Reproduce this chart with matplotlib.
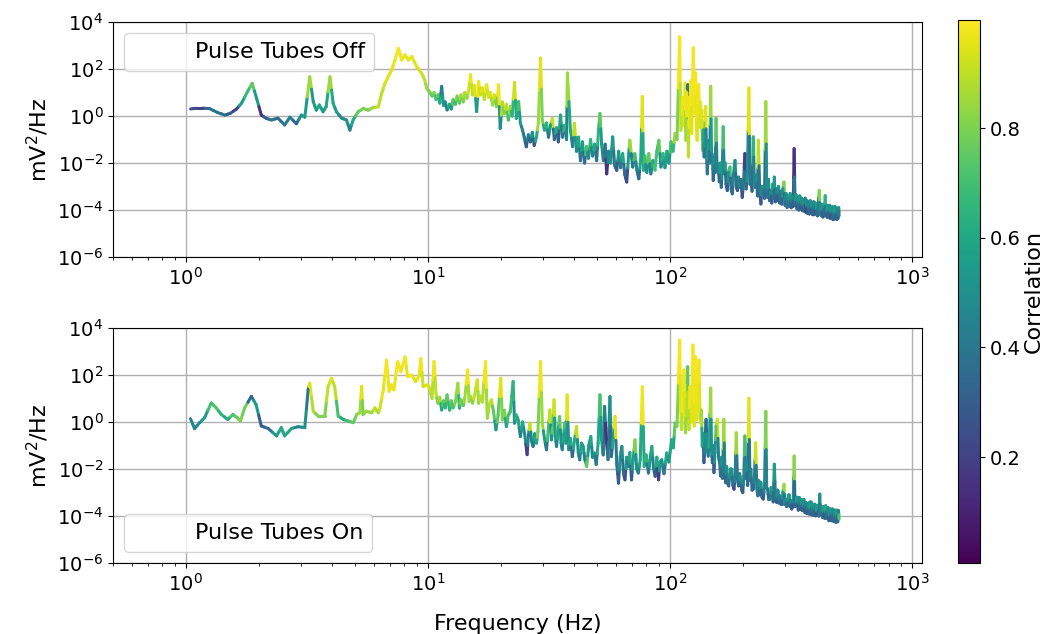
import numpy as np
import matplotlib
matplotlib.use("Agg")
import matplotlib.pyplot as plt
from matplotlib.collections import LineCollection
from matplotlib.colors import Normalize
from matplotlib.lines import Line2D
from matplotlib.ticker import NullLocator


#
# Cross-spectra with the pulse tubes off / on, coloured by correlation
#

# Pulse tubes off: frequency (Hz), log10 PSD (mV^2/Hz), correlation
freq_off = [1.046, 1.10, 1.17, 1.25, 1.35, 1.45, 1.53, 1.62, 1.70, 1.80,
            1.88, 1.96, 2.05, 2.15, 2.26, 2.40, 2.56, 2.69, 2.86, 3.00,
            3.10, 3.25, 3.36, 3.46, 3.56, 3.69, 3.80, 3.94, 4.06, 4.19,
            4.40, 4.61, 4.76, 4.91, 5.15, 5.41, 5.67, 5.95, 6.24, 6.44,
            6.65, 6.86, 7.09, 7.31, 7.55, 7.80, 8.05, 8.30, 8.57, 8.99,
            9.42, 9.70, 9.89,
            10.2, 10.4, 10.6, 10.8, 11.0, 11.2, 11.4, 11.6, 11.8, 12.0,
            12.3, 12.5, 12.7, 13.0, 13.2, 13.5, 13.7, 14.0, 14.2, 14.5,
            14.8, 15.0, 15.3, 15.6, 15.9, 16.2, 16.5, 16.8, 17.1, 17.5,
            17.8, 18.1, 18.5, 18.8, 19.2, 19.6, 19.9, 20.3, 20.7, 21.1,
            21.5, 21.9, 22.3, 22.8, 23.2, 23.7, 24.1, 24.6, 25.0, 25.5,
            26.0, 26.5, 27.0, 27.5, 28.1, 28.6, 29.2, 29.7, 30.3, 30.9,
            31.5, 32.1, 32.7, 33.3, 34.0, 34.6, 35.3, 36.0, 36.7, 37.4,
            37.7, 38.8, 39.6, 40.3, 41.1, 41.9, 42.7, 43.5, 44.4, 45.2,
            46.1, 47.0, 47.9, 48.8, 49.8, 50.7, 51.4, 52.2, 53.1, 54.0,
            54.8, 55.8, 56.9, 58.0, 59.1, 60.3, 61.4, 62.6, 63.8, 65.1,
            66.3, 67.6, 68.3, 70.2, 71.6, 73.0, 74.4, 75.8, 76.9, 77.8,
            78.8, 80.3, 81.8, 83.4, 85.0, 86.7, 88.3, 90.0, 91.8, 93.6,
            95.4, 97.2, 99.1, 101.0, 103.0, 105.0, 107.0, 109.7, 111.0, 113.0,
            114.3, 115.5, 116.5, 117.5, 118.4, 119.3, 120.3, 121.2, 122.0, 123.0,
            124.9, 126.0, 127.0, 127.7, 128.5, 129.5, 130.5, 131.5, 132.5, 133.5,
            134.5, 135.5, 136.5, 137.5, 138.5, 139.5, 140.5, 141.5, 142.7, 144.0,
            145.0, 146.0, 147.4, 148.5, 149.8, 151.0, 152.5, 154.0, 155.0, 156.5,
            158.0, 160.0, 161.5, 163.0, 164.5, 166.0, 167.5, 169.0, 170.5, 172.6,
            174.5, 177.0, 179.0, 181.0, 183.0, 185.7, 188.0, 190.0, 192.0, 194.0,
            196.5, 199.0, 201.5, 204.0, 206.5, 209.0, 212.0, 214.0, 216.0, 218.5,
            221.0, 223.0, 225.0, 228.0, 230.0, 232.0, 235.0, 237.6, 240.0, 243.0,
            246.0, 249.0, 251.0, 253.0, 255.5, 258.0, 261.0, 263.5, 266.0, 268.0,
            270.0, 272.5, 275.0, 278.0, 281.0, 284.0, 287.0, 290.0, 293.0, 296.0,
            299.0, 302.0, 305.0, 308.0, 311.0, 314.0, 317.0, 320.0, 323.0, 326.0,
            329.0, 332.0, 335.0, 338.0, 341.0, 344.0, 347.0, 350.0, 353.0, 356.0,
            359.0, 362.0, 365.0, 368.0, 371.0, 374.0, 377.0, 380.0, 383.0, 386.0,
            389.0, 392.0, 395.0, 398.0, 401.0, 404.0, 407.0, 410.0, 414.0, 417.0,
            420.0, 423.0, 426.0, 429.0, 432.0, 435.0, 438.0, 441.0, 444.0, 447.0,
            450.0, 453.0, 456.0, 459.0, 462.0, 465.0, 468.0, 471.0, 474.0, 477.0,
            480.0, 483.0, 486.0, 489.0, 492.0, 495.0, 498.0, 500.0]
psd_off = [0.30, 0.33, 0.33, 0.32, 0.15, 0.04, 0.12, 0.30, 0.55, 1.05,
           1.39, 0.75, 0.04, -0.10, -0.17, -0.09, -0.38, -0.05, -0.33, 0.04,
           -0.05, 1.67, 0.61, 0.25, 0.47, 0.18, 0.40, 1.67, 0.54, 0.18,
           -0.09, -0.17, -0.60, -0.17, 0.18, 0.32, 0.25, 0.36, 0.39, 0.96,
           1.39, 1.67, 1.96, 2.38, 2.88, 2.38, 2.60, 2.38, 2.53, 2.10,
           1.82, 1.54, 1.18,
           1.00, 0.85, 1.00, 0.70, 0.90, 0.55, 1.26, 0.45, 0.60, 0.26,
           0.50, 0.30, 0.70, 0.50, 0.85, 0.55, 0.90, 0.60, 1.00, 0.75,
           1.20, 1.76, 0.90, 1.30, 0.19, 1.47, 0.90, 1.20, 0.70, 1.33,
           0.80, 1.00, 0.47, 0.90, 0.40, 1.33, -0.53, 0.60, 0.10, 0.50,
           -0.17, 0.40, 0.00, 1.43, -0.10, 0.61, -0.30, -0.60, -0.90, -1.31,
           -0.80, -1.10, -0.70, -1.25, -0.89, -0.30, 2.47, -0.17, -0.60, -0.30,
           -0.90, -0.40, -0.10, -1.00, -0.50, -1.10, 0.04, -0.90, -0.40, -1.00,
           1.83, -0.60, -1.30, -0.31, -1.50, -0.90, -1.90, -1.10, -2.00, -1.30,
           -1.80, -1.00, -1.70, -1.20, -1.90, -0.60, 0.11, -1.20, -1.90, -1.20,
           -2.46, -1.50, -2.00, -0.89, -2.10, -2.31, -1.50, -2.20, -1.60, -2.50,
           -2.81, -1.60, -1.03, -2.17, -1.60, -2.30, -2.67, -1.80, 0.83, -2.31,
           -1.70, -2.40, -1.60, -2.46, -1.90, -2.30, -1.50, -1.03, -2.17, -1.60,
           -2.20, -1.50, -2.00, -1.10, -1.50, -0.74, -1.00, 3.37, -0.60, 0.80,
           -0.40, 1.40, -1.03, 1.00, 1.33, -1.74, 0.80, -0.50, 1.50, -0.74,
           2.90, 0.11, 1.40, 1.83, -0.20, -1.03, 1.00, 1.33, -0.46, 0.60,
           -0.50, 0.26, -1.46, -0.60, -1.74, -0.80, 0.40, -1.50, -2.46, -1.20,
           -1.03, -2.00, 1.26, -1.50, -1.74, -2.74, -1.80, -2.40, -0.10, -2.20,
           -2.03, -2.80, -2.00, -3.03, -2.30, -0.46, -2.46, -2.00, -2.90, -3.17,
           -2.40, -2.17, -3.10, -3.31, -2.50, -1.89, -3.00, -3.17, -2.60, -3.03,
           -2.70, -3.46, -2.80, -1.60, -3.10, -2.46, 1.19, -2.90, -2.74, -3.20,
           -0.89, -2.60, -3.03, -2.50, -3.40, -1.03, -3.20, -3.74, -3.00, -3.03,
           -3.50, 0.61, -3.00, -3.46, -2.70, -3.60, -3.17, -3.70, -2.90, -3.50,
           -2.60, -3.65, -3.10, -3.60, -3.00, -3.70, -3.20, -3.75, -3.10, -2.81,
           -3.80, -3.30, -3.89, -3.40, -3.85, -3.30, -3.90, -3.40, -3.85, -1.39,
           -3.81, -3.35, -3.95, -3.45, -4.00, -3.40, -3.95, -3.50, -4.03, -3.55,
           -4.05, -3.50, -4.10, -3.60, -4.15, -3.65, -4.17, -3.60, -4.10, -3.70,
           -4.20, -3.65, -4.20, -3.70, -4.15, -3.75, -4.25, -3.70, -3.17, -4.20,
           -3.75, -4.25, -3.80, -4.30, -3.75, -4.20, -3.39, -4.25, -3.80, -4.31,
           -3.85, -4.30, -3.80, -4.35, -3.85, -4.35, -3.85, -4.40, -3.90, -4.39,
           -3.85, -4.35, -3.90, -4.40, -3.95, -4.35, -3.90, -4.24]
corr_off = [0.25, 0.22, 0.20, 0.35, 0.38, 0.38, 0.30, 0.20, 0.55, 0.68,
            0.75, 0.55, 0.15, 0.30, 0.40, 0.35, 0.40, 0.45, 0.35, 0.50,
            0.55, 0.85, 0.55, 0.55, 0.60, 0.55, 0.60, 0.85, 0.60, 0.55,
            0.45, 0.50, 0.45, 0.60, 0.75, 0.80, 0.80, 0.85, 0.90, 0.90,
            0.93, 0.95, 0.95, 0.97, 0.98, 0.97, 0.97, 0.96, 0.96, 0.95,
            0.93, 0.90, 0.85,
            0.80, 0.75, 0.80, 0.70, 0.75, 0.60, 0.45, 0.55, 0.50, 0.45,
            0.60, 0.55, 0.75, 0.70, 0.80, 0.75, 0.85, 0.80, 0.88, 0.85,
            0.92, 0.97, 0.90, 0.95, 0.55, 0.97, 0.92, 0.95, 0.90, 0.96,
            0.92, 0.94, 0.85, 0.93, 0.80, 0.97, 0.50, 0.88, 0.80, 0.90,
            0.70, 0.85, 0.65, 0.92, 0.60, 0.70, 0.55, 0.45, 0.40, 0.30,
            0.45, 0.35, 0.50, 0.30, 0.60, 0.85, 0.95, 0.80, 0.60, 0.65,
            0.40, 0.55, 0.90, 0.35, 0.60, 0.30, 0.60, 0.40, 0.65, 0.45,
            0.85, 0.60, 0.45, 0.90, 0.50, 0.60, 0.40, 0.55, 0.35, 0.70,
            0.50, 0.65, 0.45, 0.60, 0.40, 0.65, 0.75, 0.55, 0.45, 0.40,
            0.15, 0.45, 0.50, 0.55, 0.40, 0.30, 0.55, 0.40, 0.60, 0.35,
            0.25, 0.55, 0.85, 0.40, 0.70, 0.45, 0.35, 0.60, 0.95, 0.60,
            0.70, 0.50, 0.75, 0.45, 0.60, 0.70, 0.70, 0.75, 0.50, 0.65,
            0.55, 0.60, 0.55, 0.70, 0.65, 0.85, 0.80, 0.98, 0.90, 0.96,
            0.95, 0.97, 0.85, 0.96, 0.40, 0.90, 0.97, 0.96, 0.98, 0.95,
            0.98, 0.97, 0.98, 0.98, 0.96, 0.95, 0.97, 0.97, 0.95, 0.96,
            0.93, 0.95, 0.75, 0.60, 0.40, 0.55, 0.95, 0.45, 0.40, 0.55,
            0.50, 0.40, 0.85, 0.55, 0.45, 0.35, 0.50, 0.40, 0.75, 0.45,
            0.45, 0.35, 0.55, 0.35, 0.50, 0.70, 0.45, 0.55, 0.35, 0.30,
            0.50, 0.70, 0.35, 0.35, 0.45, 0.50, 0.35, 0.30, 0.45, 0.45,
            0.40, 0.25, 0.40, 0.20, 0.35, 0.50, 0.95, 0.40, 0.40, 0.35,
            0.65, 0.45, 0.45, 0.50, 0.35, 0.90, 0.40, 0.30, 0.45, 0.50,
            0.35, 0.85, 0.50, 0.40, 0.50, 0.35, 0.45, 0.30, 0.55, 0.40,
            0.55, 0.30, 0.45, 0.30, 0.50, 0.35, 0.40, 0.35, 0.50, 0.80,
            0.35, 0.50, 0.35, 0.50, 0.40, 0.55, 0.30, 0.50, 0.30, 0.15,
            0.40, 0.55, 0.30, 0.50, 0.35, 0.55, 0.30, 0.50, 0.30, 0.55,
            0.35, 0.45, 0.20, 0.50, 0.30, 0.45, 0.35, 0.50, 0.30, 0.55,
            0.30, 0.45, 0.30, 0.50, 0.30, 0.55, 0.35, 0.45, 0.80, 0.40,
            0.50, 0.40, 0.55, 0.30, 0.50, 0.35, 0.65, 0.35, 0.50, 0.30,
            0.55, 0.35, 0.50, 0.30, 0.50, 0.30, 0.55, 0.30, 0.50, 0.35,
            0.55, 0.35, 0.55, 0.30, 0.45, 0.35, 0.50, 0.40]

# Pulse tubes on
freq_on = [1.045, 1.086, 1.14, 1.195, 1.273, 1.335, 1.40, 1.49, 1.565, 1.63,
           1.68, 1.75, 1.865, 1.95, 2.05, 2.19, 2.37, 2.48, 2.56, 2.73,
           2.91, 3.10, 3.20, 3.25, 3.36, 3.52, 3.75, 3.87, 4.00, 4.12,
           4.26, 4.47, 4.69, 4.92, 5.08, 5.24, 5.32, 5.40, 5.57, 5.85,
           6.04, 6.24, 6.34, 6.54, 6.75, 6.92, 7.08, 7.24, 7.50, 7.74,
           8.05, 8.25, 8.57, 8.90, 9.19, 9.35, 9.56, 9.98,
           10.2, 10.4, 10.6, 10.8, 11.0, 11.2, 11.4, 11.6, 11.8, 12.0,
           12.3, 12.5, 12.7, 13.0, 13.3, 13.5, 13.7, 14.0, 14.2, 14.6,
           14.8, 15.0, 15.3, 15.6, 16.0, 16.2, 16.5, 16.8, 17.3, 17.6,
           17.9, 18.3, 18.7, 19.1, 19.5, 20.0, 20.3, 20.7, 21.1, 21.5,
           21.9, 22.5, 22.8, 23.2, 23.6, 24.1, 24.6, 25.1, 25.7, 26.0,
           26.4, 26.8, 27.2, 27.6, 28.1, 28.5, 29.2, 29.7, 30.3, 30.9,
           31.4, 31.9, 32.4, 32.8, 33.2, 33.6, 34.0, 34.5, 35.0, 35.5,
           35.9, 36.4, 36.8, 37.2, 37.6, 38.2, 38.8, 39.5, 40.3, 41.1,
           41.8, 42.4, 43.1, 43.8, 44.5, 45.3, 46.2, 47.1, 47.9, 48.7,
           49.6, 50.5, 51.4, 52.2, 53.0, 53.7, 54.6, 55.5, 56.5, 57.3,
           58.3, 59.3, 60.3, 61.3, 62.3, 63.3, 64.3, 65.2, 66.3, 67.3,
           68.3, 69.4, 70.5, 71.7, 72.9, 74.0, 75.4, 76.9, 78.3, 79.8,
           81.5, 82.8, 84.2, 85.6, 86.9, 88.3, 89.7, 91.1, 92.5, 94.5,
           97.0, 99.0, 101.6, 103.3, 105.0, 107.0, 109.7, 110.8, 111.8, 113.0,
           114.3, 115.2, 116.0, 117.2, 118.4, 119.2, 120.0, 120.9, 121.8, 123.0,
           124.5, 125.3, 126.0, 126.8, 127.7, 128.5, 129.3, 130.5, 131.9, 133.0,
           134.0, 135.0, 136.0, 137.1, 138.2, 139.5, 141.0, 142.5, 144.0, 145.5,
           147.4, 148.5, 149.8, 151.0, 152.0, 153.5, 155.0, 157.0, 158.8, 160.5,
           162.0, 163.5, 165.0, 167.0, 168.5, 170.0, 171.5, 173.0, 175.0, 177.5,
           180.0, 182.0, 184.0, 186.0, 188.0, 190.0, 192.0, 194.0, 196.0, 198.0,
           200.0, 202.0, 204.0, 205.5, 207.0, 209.5, 212.0, 214.0, 216.0, 218.5,
           221.0, 223.5, 226.0, 228.5, 230.6, 233.0, 235.5, 237.6, 240.0, 243.0,
           246.0, 249.0, 251.0, 253.0, 256.0, 259.0, 261.5, 264.0, 267.0, 270.0,
           273.0, 276.0, 278.0, 280.0, 282.0, 284.0, 287.0, 290.0, 293.0, 296.0,
           298.5, 301.0, 303.5, 306.0, 308.5, 311.0, 313.5, 316.0, 318.5, 321.0,
           323.5, 326.0, 328.5, 331.0, 333.5, 336.0, 339.0, 342.0, 344.5, 347.0,
           350.0, 353.0, 355.5, 358.0, 361.0, 364.0, 367.0, 370.0, 373.0, 376.0,
           379.0, 382.0, 385.0, 388.0, 391.0, 394.0, 397.0, 400.0, 404.0, 408.0,
           412.0, 416.0, 418.5, 421.0, 424.0, 427.0, 430.0, 433.0, 436.5, 440.0,
           443.5, 447.0, 450.5, 454.0, 457.5, 461.0, 465.0, 469.0, 472.5, 476.0,
           480.0, 484.0, 487.0, 490.0, 493.5, 497.0, 500.0]
psd_on = [0.14, -0.28, -0.03, 0.18, 0.81, 0.60, 0.32, 0.11, 0.32, 0.18,
          0.04, 0.60, 1.09, 0.74, -0.17, -0.28, -0.59, -0.24, -0.59, -0.28,
          -0.20, -0.24, 1.37, 1.65, 0.46, 0.25, 0.25, 1.51, 1.86, 1.51,
          0.25, 0.11, 0.04, -0.03, 0.32, 0.39, 1.51, 0.32, 0.46, 0.39,
          0.60, 0.39, 0.60, 1.37, 2.63, 1.30, 1.58, 1.37, 2.56, 2.14,
          2.77, 1.93, 2.00, 1.72, 1.93, 2.70, 1.51, 1.58,
          1.40, 1.00, 2.57, 1.22, 0.80, 1.05, 0.51, 0.90, 0.60, 1.15,
          0.51, 0.90, 0.60, 0.87, 1.65, 0.59, 0.95, 0.70, 1.00, 2.21,
          0.87, 1.10, 0.80, 1.15, 1.79, 0.80, 1.10, 0.85, 2.57, 0.16,
          0.70, 0.94, 0.40, -0.33, 0.30, 1.86, 0.09, 0.50, -0.19, 0.30,
          0.44, 1.72, -0.05, 0.30, 0.09, -0.62, 0.00, -0.50, -1.39, -0.60,
          -0.05, -0.80, -1.04, -0.50, -0.90, -0.40, 2.57, -0.05, -0.70, -1.18,
          -0.40, 0.51, -0.76, -0.20, 0.94, -0.60, -1.04, -0.40, 0.23, -0.90,
          -1.18, -0.50, -0.05, -0.90, 1.15, -1.18, -0.70, -1.47, -0.80, -0.19,
          -1.30, -1.61, -0.90, -1.04, -1.60, -1.89, -1.00, -0.62, -1.50, -1.32,
          -1.80, -0.90, 1.15, -0.76, -1.40, 0.66, -0.76, -1.60, 1.08, -1.47,
          -0.70, 0.23, -1.80, -2.60, -1.50, -1.04, -2.20, -2.46, -1.50, -1.89,
          -1.30, -2.46, -1.60, -0.76, -2.00, -2.17, -1.60, 1.50, -1.89, -1.40,
          -2.17, -1.60, -1.04, -2.00, -2.31, -1.50, -2.46, -1.70, -1.61, -2.20,
          -1.32, -1.70, -0.76, -1.10, -0.05, -0.18, 3.48, 0.50, -0.32, 1.20,
          2.21, 0.30, -0.46, 1.00, 2.35, 0.20, -0.32, 1.50, 1.08, 0.00,
          3.27, 1.00, -0.18, 1.80, 2.77, 0.40, 0.11, 1.70, 2.63, 0.60,
          -0.03, 0.50, -1.03, -0.50, -1.73, -0.90, 0.11, -1.10, -1.45, -0.70,
          1.44, -1.20, -1.73, -1.00, -2.15, -1.30, -0.20, 0.11, -1.50, -1.73,
          -2.30, -1.50, -2.40, 0.11, -1.90, -2.58, -1.90, -2.60, -2.72, -2.00,
          -2.01, -2.70, -2.86, -2.20, -0.46, -2.40, -2.72, -2.20, -2.44, -2.90,
          -3.00, -2.30, -0.60, -2.40, -1.73, -2.70, 1.01, -2.50, -2.01, -2.90,
          -2.86, -2.30, -0.89, -2.80, -3.14, -2.50, -3.10, -2.58, -3.20, -3.28,
          -2.70, 0.45, -2.80, -2.86, -3.30, -3.28, -2.80, -2.90, -3.40, -1.80,
          -3.30, -3.42, -2.90, -2.95, -3.45, -3.14, -3.50, -3.50, -3.00, -2.65,
          -3.50, -3.30, -3.60, -3.56, -3.10, -3.10, -3.60, -3.35, -3.70, -3.60,
          -3.20, -1.45, -3.60, -3.56, -3.20, -3.20, -3.75, -3.21, -3.70, -3.70,
          -3.30, -3.77, -3.35, -3.30, -3.85, -3.42, -3.90, -3.90, -3.45, -3.92,
          -3.40, -3.40, -3.95, -3.49, -3.95, -3.95, -3.50, -3.99, -3.55, -3.55,
          -4.00, -3.07, -3.95, -3.90, -3.60, -4.06, -3.60, -3.60, -4.10, -3.56,
          -4.10, -4.10, -3.65, -4.20, -3.70, -3.70, -4.20, -3.70, -4.20, -4.20,
          -3.75, -4.27, -3.75, -3.75, -4.25, -3.77, -4.13]
corr_on = [0.45, 0.45, 0.50, 0.55, 0.70, 0.72, 0.65, 0.60, 0.72, 0.75,
           0.80, 0.78, 0.35, 0.55, 0.30, 0.35, 0.55, 0.60, 0.60, 0.60,
           0.45, 0.50, 0.40, 0.95, 0.88, 0.80, 0.80, 0.90, 0.95, 0.90,
           0.70, 0.60, 0.70, 0.75, 0.80, 0.85, 0.95, 0.80, 0.85, 0.85,
           0.90, 0.88, 0.92, 0.96, 0.98, 0.96, 0.97, 0.96, 0.98, 0.97,
           0.98, 0.96, 0.97, 0.95, 0.96, 0.98, 0.92, 0.95,
           0.92, 0.88, 0.97, 0.90, 0.80, 0.85, 0.60, 0.75, 0.65, 0.75,
           0.65, 0.75, 0.70, 0.80, 0.85, 0.65, 0.80, 0.75, 0.85, 0.97,
           0.85, 0.88, 0.82, 0.90, 0.92, 0.85, 0.90, 0.88, 0.97, 0.85,
           0.88, 0.90, 0.75, 0.55, 0.75, 0.95, 0.80, 0.80, 0.60, 0.70,
           0.70, 0.65, 0.50, 0.65, 0.60, 0.45, 0.60, 0.50, 0.20, 0.45,
           0.90, 0.45, 0.40, 0.55, 0.60, 0.80, 0.97, 0.85, 0.55, 0.40,
           0.70, 0.90, 0.50, 0.75, 0.92, 0.55, 0.45, 0.60, 0.75, 0.50,
           0.45, 0.60, 0.70, 0.55, 0.95, 0.50, 0.60, 0.35, 0.60, 0.90,
           0.50, 0.45, 0.60, 0.55, 0.45, 0.75, 0.55, 0.60, 0.45, 0.50,
           0.40, 0.60, 0.70, 0.55, 0.40, 0.45, 0.15, 0.40, 0.50, 0.35,
           0.60, 0.95, 0.40, 0.30, 0.50, 0.50, 0.35, 0.25, 0.55, 0.45,
           0.60, 0.30, 0.55, 0.80, 0.50, 0.45, 0.60, 0.97, 0.60, 0.65,
           0.40, 0.55, 0.60, 0.45, 0.30, 0.60, 0.20, 0.55, 0.50, 0.40,
           0.60, 0.55, 0.60, 0.60, 0.75, 0.80, 0.98, 0.95, 0.90, 0.97,
           0.98, 0.95, 0.85, 0.90, 0.75, 0.88, 0.90, 0.97, 0.97, 0.95,
           0.98, 0.97, 0.95, 0.98, 0.98, 0.96, 0.95, 0.97, 0.97, 0.95,
           0.90, 0.85, 0.60, 0.55, 0.30, 0.45, 0.35, 0.50, 0.45, 0.60,
           0.85, 0.50, 0.35, 0.50, 0.30, 0.50, 0.75, 0.92, 0.45, 0.40,
           0.35, 0.50, 0.40, 0.85, 0.45, 0.30, 0.50, 0.40, 0.35, 0.50,
           0.50, 0.35, 0.25, 0.45, 0.85, 0.40, 0.35, 0.45, 0.50, 0.35,
           0.30, 0.45, 0.70, 0.45, 0.50, 0.35, 0.95, 0.40, 0.45, 0.35,
           0.35, 0.45, 0.92, 0.40, 0.40, 0.50, 0.35, 0.50, 0.35, 0.30,
           0.45, 0.80, 0.45, 0.40, 0.35, 0.45, 0.50, 0.55, 0.35, 0.55,
           0.40, 0.30, 0.50, 0.50, 0.35, 0.45, 0.35, 0.35, 0.50, 0.85,
           0.40, 0.50, 0.35, 0.40, 0.55, 0.55, 0.35, 0.45, 0.30, 0.30,
           0.50, 0.82, 0.35, 0.35, 0.55, 0.55, 0.30, 0.50, 0.35, 0.30,
           0.55, 0.30, 0.50, 0.55, 0.30, 0.45, 0.30, 0.25, 0.50, 0.35,
           0.55, 0.50, 0.30, 0.55, 0.35, 0.30, 0.50, 0.30, 0.55, 0.55,
           0.35, 0.50, 0.40, 0.40, 0.50, 0.35, 0.55, 0.60, 0.30, 0.60,
           0.35, 0.30, 0.50, 0.30, 0.50, 0.55, 0.30, 0.50, 0.35, 0.30,
           0.50, 0.35, 0.55, 0.55, 0.35, 0.45, 0.70]

corr_range = (0.007, 0.997)
panel_labels = ['Pulse Tubes Off', 'Pulse Tubes On']

norm = Normalize(vmin=corr_range[0], vmax=corr_range[1])
cmap = plt.get_cmap('viridis')


def coloured_psd(ax, freq, log_psd, corr):
    f = np.asarray(freq)
    p = 10.0 ** np.asarray(log_psd)
    c = np.asarray(corr)
    # split every step at its log-midpoint so each half takes its own end's colour
    fm = np.sqrt(f[:-1] * f[1:])
    pm = np.sqrt(p[:-1] * p[1:])
    segs_a = np.stack([np.column_stack([f[:-1], p[:-1]]), np.column_stack([fm, pm])], axis=1)
    segs_b = np.stack([np.column_stack([fm, pm]), np.column_stack([f[1:], p[1:]])], axis=1)
    segs = np.concatenate([segs_a, segs_b])
    lc = LineCollection(segs, cmap=cmap, norm=norm, linewidths=2.2, capstyle='round')
    lc.set_array(np.concatenate([c[:-1], c[1:]]))
    ax.add_collection(lc)
    return lc


fig = plt.figure(figsize=(10.6, 6.34), dpi=100)
ax_off = fig.add_axes([0.1066, 0.5946, 0.7632, 0.3707])
ax_on = fig.add_axes([0.1066, 0.1120, 0.7632, 0.3707])
cax = fig.add_axes([0.9038, 0.1120, 0.0208, 0.8565])

panels = [(ax_off, freq_off, psd_off, corr_off, 'upper left'),
          (ax_on, freq_on, psd_on, corr_on, 'lower left')]
for (ax, fr, ps, co, loc), lab in zip(panels, panel_labels):
    coloured_psd(ax, fr, ps, co)
    ax.set_xscale('log')
    ax.set_yscale('log')
    ax.set_xlim(0.5, 1100)
    ax.set_ylim(1e-6, 1e4)
    ax.set_yticks([1e-6, 1e-4, 1e-2, 1e0, 1e2, 1e4])
    ax.yaxis.set_minor_locator(NullLocator())
    ax.grid(True, which='major', color='#b0b0b0', linewidth=1.0)
    ax.set_axisbelow(True)
    ax.set_ylabel('mV$^2$/Hz', fontsize=16)
    ax.tick_params(labelsize=14)
    blank = Line2D([], [], color='none')
    ax.legend([blank], [lab], loc=loc, fontsize=16)

ax_on.set_xlabel('Frequency (Hz)', fontsize=16, labelpad=14)

sm = plt.cm.ScalarMappable(cmap=cmap, norm=norm)
cb = fig.colorbar(sm, cax=cax, ticks=[0.2, 0.4, 0.6, 0.8])
cb.ax.tick_params(labelsize=14)
cb.set_label('Correlation', fontsize=16, labelpad=2)

plt.savefig('out.png', dpi=100)
